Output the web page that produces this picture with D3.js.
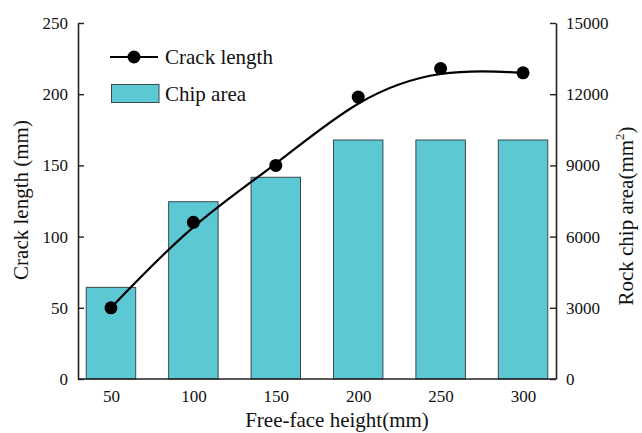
<!DOCTYPE html>
<html>
<head>
<meta charset="utf-8">
<script src="https://cdn.jsdelivr.net/npm/d3@7"></script>
<style>
  html, body { margin: 0; padding: 0; background: #fff; }
  svg { display: block; }
  svg text { font-family: "Liberation Serif", "Times New Roman", serif !important; fill: #111; }
</style>
</head>
<body>
<svg id="chart" width="642" height="433"></svg>
<script>
// Free-face height categories (mm)
const heights = [50, 100, 150, 200, 250, 300];
// Crack length measured at each height (mm)
const crackLength = [50, 110, 150, 198, 218, 215];
// Rock chip area at each height (mm^2)
const chipArea = [3860, 7470, 8500, 10070, 10070, 10070];
// Axis tick values
const leftTicks = [0, 50, 100, 150, 200, 250];
const rightTicks = [0, 3000, 6000, 9000, 12000, 15000];

const svg = d3.select("#chart");
const margin = { left: 78, right: 86, top: 23, bottom: 54 };
const W = 642, H = 433;
const x0 = margin.left, x1 = W - margin.right;
const y0 = H - margin.bottom, y1 = margin.top;

const x = d3.scaleLinear().domain([30, 320]).range([x0, x1]);
const yL = d3.scaleLinear().domain([0, 250]).range([y0, y1]);
const yR = d3.scaleLinear().domain([0, 15000]).range([y0, y1]);
const barW = x(30) - x(0);

// bars: chip area on right axis
svg.append("g").selectAll("rect")
  .data(heights.map((h, i) => ({ h, v: chipArea[i] })))
  .join("rect")
  .attr("x", d => x(d.h) - barW / 2)
  .attr("y", d => yR(d.v))
  .attr("width", barW)
  .attr("height", d => y0 - yR(d.v))
  .attr("fill", "#5bc8d4")
  .attr("stroke", "#3a4a4c")
  .attr("stroke-width", 1);

// smoothed crack-length curve
const pts = heights.map((h, i) => [x(h), yL(crackLength[i])]);
svg.append("path")
  .attr("d", d3.line().curve(d3.curveBasis)(pts))
  .attr("fill", "none")
  .attr("stroke", "#000")
  .attr("stroke-width", 2.2);

svg.append("g").selectAll("circle")
  .data(pts)
  .join("circle")
  .attr("cx", d => d[0])
  .attr("cy", d => d[1])
  .attr("r", 6.5)
  .attr("fill", "#000");

// axes
const fmt = d3.format("d");
const gL = svg.append("g").attr("transform", `translate(${x0},0)`)
  .call(d3.axisLeft(yL).tickValues(leftTicks).tickFormat(fmt).tickSizeInner(-6).tickSizeOuter(0).tickPadding(10));
const gR = svg.append("g").attr("transform", `translate(${x1},0)`)
  .call(d3.axisRight(yR).tickValues(rightTicks).tickFormat(fmt).tickSizeInner(-6).tickSizeOuter(0).tickPadding(10));
const gB = svg.append("g").attr("transform", `translate(0,${y0})`)
  .call(d3.axisBottom(x).tickValues(heights).tickFormat(fmt).tickSize(0).tickPadding(11));
gB.select(".domain").attr("d", `M${x0},0H${x1}`);

[gL, gR, gB].forEach(g => {
  g.attr("font-size", null).attr("font-family", null);
  g.selectAll(".domain").attr("stroke", "#222").attr("stroke-width", 1.6);
  g.selectAll(".tick line").attr("stroke", "#222").attr("stroke-width", 1.4);
  g.selectAll("text").style("font-size", "17px");
});

// axis titles
svg.append("text")
  .attr("transform", `translate(28,200) rotate(-90)`)
  .attr("text-anchor", "middle")
  .style("font-size", "21px")
  .text("Crack length (mm)");

const rt = svg.append("text")
  .attr("transform", `translate(633,216) rotate(-90)`)
  .attr("text-anchor", "middle")
  .style("font-size", "21px");
rt.append("tspan").text("Rock chip area(mm");
rt.append("tspan").attr("dy", -9).style("font-size", "13px").text("2");
rt.append("tspan").attr("dy", 9).text(")");

svg.append("text")
  .attr("x", 337).attr("y", 427)
  .attr("text-anchor", "middle")
  .style("font-size", "21px")
  .text("Free-face height(mm)");

// legend
const lg = svg.append("g");
lg.append("line").attr("x1", 110).attr("x2", 158).attr("y1", 57).attr("y2", 57)
  .attr("stroke", "#000").attr("stroke-width", 2.2);
lg.append("circle").attr("cx", 134).attr("cy", 57).attr("r", 6.5).attr("fill", "#000");
lg.append("text").attr("x", 165).attr("y", 64).style("font-size", "21px")
  .text("Crack length");
lg.append("rect").attr("x", 111.5).attr("y", 84.5).attr("width", 47.5).attr("height", 18)
  .attr("fill", "#5bc8d4").attr("stroke", "#3a4a4c").attr("stroke-width", 1);
lg.append("text").attr("x", 165).attr("y", 101).style("font-size", "21px")
  .text("Chip area");
</script>
</body>
</html>
